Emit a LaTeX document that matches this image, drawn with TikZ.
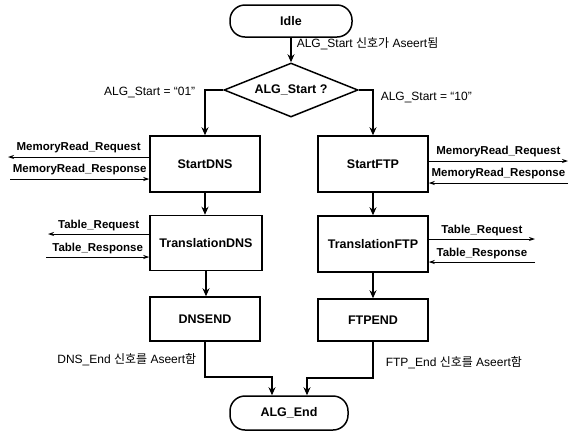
\documentclass[tikz,border=0pt]{standalone}
\usepackage{fontspec}
\setmainfont{Liberation Sans}
\newfontfamily\kr{Noto Sans CJK KR}
\usetikzlibrary{positioning,arrows.meta,shapes.geometric}
\tikzset{>=stealth}

\begin{document}
\begin{tikzpicture}[x=1pt,y=-1pt,
  box/.style={draw,line width=1.5pt,minimum width=110pt,minimum height=56pt,
    font=\fontsize{12.5}{14}\selectfont\bfseries},
  term/.style={draw,line width=1.5pt,rounded corners=15pt,minimum width=122pt,
    minimum height=32pt,font=\fontsize{12.5}{14}\selectfont\bfseries},
  cond/.style={draw,diamond,line width=1.5pt,minimum width=134pt,minimum height=54pt,
    inner sep=0pt,aspect=2.5,font=\fontsize{12.5}{14}\selectfont\bfseries},
  flow/.style={line width=1.5pt,-{Stealth[length=8pt,width=7pt]}},
  sig/.style={line width=0.9pt,-{Stealth[length=6pt,width=4pt]}},
  lbl/.style={font=\fontsize{11.5}{13}\selectfont\bfseries,inner sep=1.5pt},
  txt/.style={font=\fontsize{12}{14}\selectfont,inner sep=0pt}]
\useasboundingbox (0,0) rectangle (569,432);

% States
\node[term] (idle) at (291,21) {Idle};
\node[cond] (start) at (291,90) {ALG\_Start ?};
\node[box] (sdns) at (205,164) {StartDNS};
\node[box] (sftp) at (373,164) {StartFTP};
\node[box,minimum width=112pt,minimum height=55pt] (tdns) at (206,243) {TranslationDNS};
\node[box] (tftp) at (373,244) {TranslationFTP};
\node[box,minimum height=44pt] (ddns) at (205,319) {DNSEND};
\node[box,minimum height=42pt] (dftp) at (373,320) {FTPEND};
\node[term,minimum width=118pt,minimum height=34pt] (algend) at (289,413) {ALG\_End};

% Free ends of the signal arrows
\coordinate (dreq) at (8,157);
\coordinate (dres) at (10,179);
\coordinate (dtreq) at (48,234);
\coordinate (dtres) at (46,257);
\coordinate (freq) at (568,161);
\coordinate (fres) at (568,183);
\coordinate (ftreq) at (535,239);
\coordinate (ftres) at (535,262);

% Control flow
\draw[flow] (idle.south) -- node[txt,pos=0.23,right=5pt] {ALG\_Start {\kr 신호가} Aseert{\kr 됨}} (start.north);
\draw[flow] (start.west) -| node[txt,pos=0.5,left=9pt,yshift=-2pt] {ALG\_Start = “01”} (sdns.north);
\draw[flow] (start.east) -| node[txt,pos=0.5,right=7pt,yshift=-7pt] {ALG\_Start = “10”} (sftp.north);
\draw[flow] (sdns.south) -- (sdns.south |- tdns.north);
\draw[flow] (tdns.south) -- (tdns.south |- ddns.north);
\draw[flow] (sftp.south) -- (tftp.north);
\draw[flow] (tftp.south) -- (dftp.north);
\draw[flow] (ddns.south) -- node[txt,left=8pt] {DNS\_End {\kr 신호를} Aseert{\kr 함}} ++(0,35)
  -| ([xshift=-17pt]algend.north);
\draw[flow] (dftp.south) -- node[txt,right=12pt,yshift=-3pt] {FTP\_End {\kr 신호를} Aseert{\kr 함}} ++(0,36)
  -| ([xshift=18pt]algend.north);

% Signals on the DNS side
\draw[sig] ([yshift=7pt]sdns.west) -- node[lbl,above=2pt] {MemoryRead\_Request} (dreq);
\draw[sig] (dres) -- node[lbl,above=2pt] {MemoryRead\_Response} ([yshift=-15pt]sdns.west);
\draw[sig] ([yshift=9pt]tdns.west) -- node[lbl,above=1pt] {Table\_Request} (dtreq);
\draw[sig] (dtres) -- node[lbl,above=1pt] {Table\_Response} ([yshift=-14pt]tdns.west);

% Signals on the FTP side
\draw[sig] ([yshift=3pt]sftp.east) -- node[lbl,above=2pt] {MemoryRead\_Request} (freq);
\draw[sig] (fres) -- node[lbl,above=2pt] {MemoryRead\_Response} ([yshift=-19pt]sftp.east);
\draw[sig] ([yshift=5pt]tftp.east) -- node[lbl,above=1pt] {Table\_Request} (ftreq);
\draw[sig] (ftres) -- node[lbl,above=1pt] {Table\_Response} ([yshift=-18pt]tftp.east);

\end{tikzpicture}
\end{document}
